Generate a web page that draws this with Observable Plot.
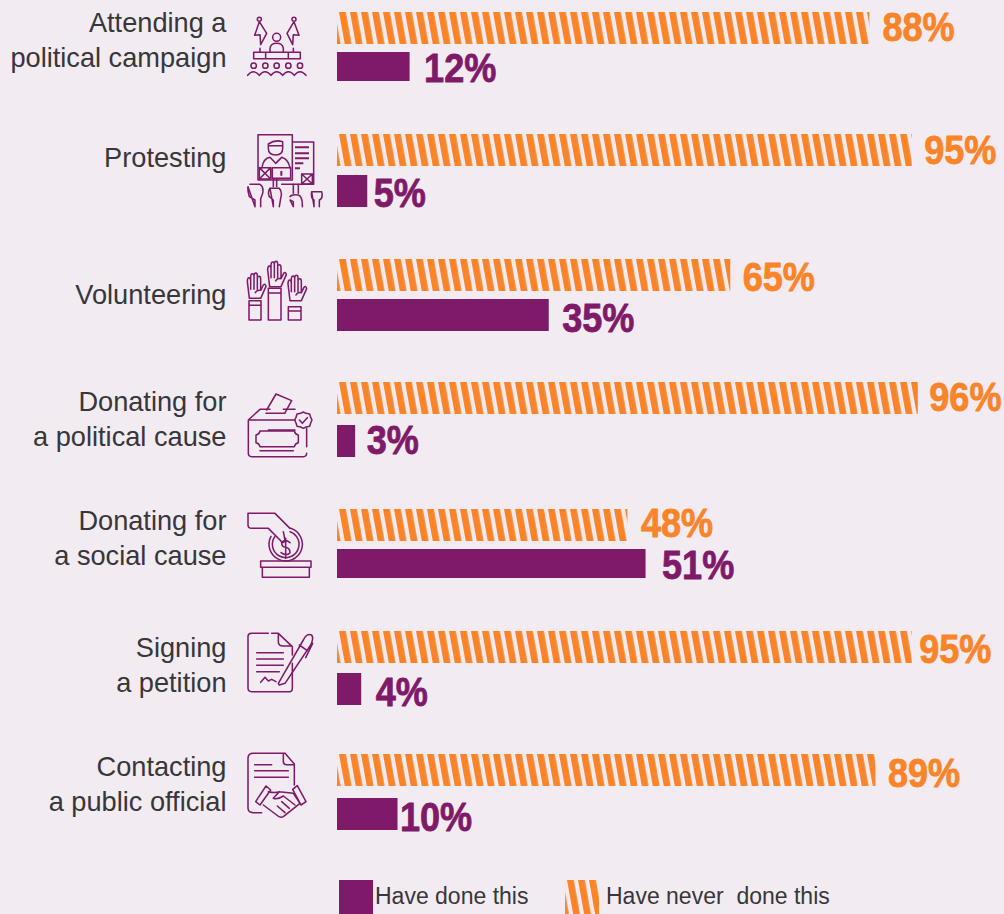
<!DOCTYPE html>
<html>
<head>
<meta charset="utf-8">
<script src="https://cdn.jsdelivr.net/npm/d3@7"></script>
<script src="https://cdn.jsdelivr.net/npm/@observablehq/plot@0.6"></script>
<style>
  html, body { margin: 0; background: #f2ebf2; }
  #chart svg { display: block; background: #f2ebf2; overflow: visible; }
  #legend { position: relative; height: 34px; margin-top: 10px; font: 23px "Liberation Sans", sans-serif; color: #38363a; }
  #legend svg { position: absolute; top: 0; }
  #legend span { position: absolute; top: 3px; white-space: pre; }
</style>
</head>
<body>
<div id="chart"></div>
<div id="legend"></div>
<script>
// Survey results: share of respondents per civic activity.
const activities = [
  "Attending a\npolitical campaign",
  "Protesting",
  "Volunteering",
  "Donating for\na political cause",
  "Donating for\na social cause",
  "Signing\na petition",
  "Contacting\na public official"
];
const haveNever = [88, 95, 65, 96, 48, 95, 89];
const haveDone = [12, 5, 35, 3, 51, 4, 10];

const PURPLE = "#7f1a68";
const ORANGE = "#fb8429";
const INK = "#38363a";

// Pixel edges of each row's two bars (top and bottom of orange, then of purple).
const barEdges = [
  [12, 44, 52, 81], [134, 166, 175, 207], [259, 291, 299, 331], [382, 414, 425, 457],
  [509, 541, 549, 578], [631, 663, 673, 705], [754, 786, 798, 830]
];
const bandStops = [0, 0.4, 0.5, 0.9];
const rows = activities.map((_, i) => i);

// Rows are not evenly spaced, so row units pass through this before the y scale.
const rowPosition = d3.scaleLinear()
  .domain(rows.flatMap(i => bandStops.map(s => i + s)))
  .range(barEdges.flat());

// Small per-row layout nudges for the text.
const nameShift = [-10, -15, -3, -3, -9, -5, -10];
const neverGap = [12.5, 12, 12, 11, 13, 7, 12];
const doneGap = [14, 6, 13, 11, 16, 14, 2];
const neverLift = [-1, 0, 2, -1, -2, 2, 3];
const doneLift = [2, 2, 3, -1, 2, 3, 3];

// Icon outlines, drawn at one third scale; each has an offset from its row's top.
const hand = "M90 112 L84 62 Q84 50 89 50 Q94 50 94 60 L94 46 Q95 38 99 38 Q104 38 104 46 L104 44 Q105 36 109 36 Q114 36 114 44 L114 52 Q115 46 119 46 Q124 46 124 54 L124 88 L132 72 Q138 66 140 76 L124 112 Z M94 60 V85 M104 46 V85 M114 52 V85 M108 95 Q112 86 124 88";
const icons = [
  { dy: -12, paths: [
    "M52 58a6 6 0 1 0 12 0a6 6 0 1 0 -12 0 M58 65 L44 106 L60 104 L62 134 L80 100 Z M156 58a6 6 0 1 0 12 0a6 6 0 1 0 -12 0 M162 65 L177 106 L160 104 L158 134 L141 100 Z M60 145 V156 M160 145 V156",
    "M98 112a12 12 0 1 0 24 0a12 12 0 1 0 -24 0 M90 156 V145 Q92 130 110 130 Q128 130 130 145 V156 M41 157 H181 V176 H41 Z M77 157 V176 M145 157 V176",
    "M33 197a8 8 0 1 0 16 0a8 8 0 1 0 -16 0 M68 197a8 8 0 1 0 16 0a8 8 0 1 0 -16 0 M102 197a8 8 0 1 0 16 0a8 8 0 1 0 -16 0 M137 197a8 8 0 1 0 16 0a8 8 0 1 0 -16 0 M172 197a8 8 0 1 0 16 0a8 8 0 1 0 -16 0",
    "M23 226 q17 -22 35 0 q17 -22 35 0 q17 -22 35 0 q17 -22 35 0 q17 -22 35 0"
  ] },
  { dy: -134, paths: [
    "M54 404 H157 V540 H54 Z M157 426 H221 V553 H125",
    "M85 432 Q105 418 128 425 V445 Q128 465 107 465 Q85 465 85 445 Z M85 437 H128 M66 503 Q70 475 90 472 L107 490 L125 472 Q145 478 150 503",
    "M58 503 H92 V537 H58 Z M58 503 L92 537 M92 503 L58 537 M185 522 H217 V552 H185 Z M185 522 L217 552 M217 522 L185 552 M97 503 H152 V535 H97 Z",
    "M100 537 V560 M110 537 V560 M160 553 V580 M175 553 V580",
    "M30 553 H60 Q72 560 68 580 L62 596 V620 M45 620 V600 L28 590 Q22 570 24 560 Z M90 565 H118 Q128 575 122 595 L118 620 M100 620 V600 L88 590 Q82 575 90 565 Z M150 590 Q155 582 175 585 Q188 590 187 620 M160 620 V605 L150 600 Z M215 575 H245 Q250 595 238 600 V620 M222 620 V600 Q212 595 215 575 Z"
  ], heavy: "M165 442 H207 M165 460 H207 M165 475 H207 M165 490 H190 M165 505 H180 M124 513 V527" },
  { dy: -9, paths: [
    "M27 152 H63 V210 H27 Z M27 166 H63 M85 115 H123 V210 H85 Z M85 129 H123 M145 170 H183 V210 H145 Z M145 183 H183"
  ], hands: [[-62, 33], [-1, -2], [60, 40]] },
  { dy: -132, paths: [
    "M25 510 L60 478 H90 M130 478 H165 M25 510 H165 M25 510 V610 Q25 620 35 620 H190 Q200 620 200 610 M200 535 V590",
    "M80 480 L108 432 L155 452 L134 490 M78 490 H135",
    "M190 486 l8 4 l11 2 l3 10 l4 8 l-4 9 l-3 10 l-11 2 l-8 4 l-8 -4 l-11 -2 l-3 -10 l-4 -9 l4 -8 l3 -10 l11 -2 Z M178 510 L187 520 L202 503",
    "M60 543 H163 Q165 553 175 555 V578 Q165 580 163 590 H60 Q58 580 48 578 V555 Q58 553 60 543 Z M85 540 H165 M60 602 H160"
  ] },
  { dy: -259, paths: [
    "M150 835 L105 790 H24 V825 Q24 835 35 835 H85 L120 870 Q130 885 135 870 L130 845",
    "M93 859 A50 50 0 1 0 152 835 M105 859 A40 40 0 1 0 150 845",
    "M150 878 Q135 865 125 878 Q125 890 137 892 Q150 895 150 908 Q140 920 123 908 M137 865 V925",
    "M62 933 H213 V952 H62 Z M67 952 H208 V982 H67 Z"
  ] },
  { dy: -11, paths: [
    "M85 40 H35 Q24 40 24 50 V205 Q24 215 35 215 H150 Q157 215 157 205 V130 M95 40 H115 L157 80 V105 M115 40 V65 Q115 78 130 78 H155",
    "M50 98 H130 M50 117 H130 M50 136 H130 M50 155 H118 M62 187 L75 172 L85 183 L95 178 L108 185",
    "M115 190 L190 60 Q200 38 215 45 Q222 55 212 75 L135 190 L118 195 Z M218 70 L197 113 M178 75 L202 92"
  ] },
  { dy: -134, paths: [
    "M135 400 H40 Q24 400 24 415 V565 Q24 578 40 578 H65 M135 400 L163 432 V495 M130 402 V425 Q130 434 140 434 H162",
    "M44 434 H95 M44 452 H145 M44 472 H145",
    "M47 545 L78 498 L92 510 L60 555 Z M158 508 L172 497 L198 545 L183 555 Z",
    "M85 515 Q105 520 118 515 L160 520 L180 550 L130 590 Q120 595 110 585 L70 555 M118 515 L100 535 Q112 540 130 528 L165 555 M148 565 L125 545 M135 578 L112 558"
  ] }
];

const svgNS = "http://www.w3.org/2000/svg";
const make = (name, attrs = {}, parent) => {
  const el = document.createElementNS(svgNS, name);
  for (const k in attrs) el.setAttribute(k, attrs[k]);
  if (parent) parent.appendChild(el);
  return el;
};

// Slanted stripes, anchored to the top-left corner of the bar that uses them.
function hatchPattern(id, x, y, parent) {
  const p = make("pattern", {
    id, patternUnits: "userSpaceOnUse", width: 11, height: 32,
    patternTransform: `translate(${x},${y}) skewX(10.2)`
  }, parent);
  make("rect", { x: 0, y: 0, width: 6.8, height: 32, fill: ORANGE }, p);
}

const hatchDefs = (index, { x, y }) => {
  const defs = make("defs");
  rows.forEach(i => hatchPattern(`hatch-${i}`, x(0) + 2, y(rowPosition(i)), defs));
  return defs;
};

const iconMark = (index, { x, y }) => {
  const root = make("g", { fill: "none", stroke: PURPLE, "stroke-width": 4.6, "stroke-linejoin": "round", "stroke-linecap": "round" });
  icons.forEach((icon, i) => {
    const g = make("g", { transform: `translate(${x(0) - 97},${y(rowPosition(i)) + icon.dy}) scale(${1 / 3})` }, root);
    icon.paths.forEach(d => make("path", { d }, g));
    if (icon.heavy) make("path", { d: icon.heavy, "stroke-width": 6, "stroke-linecap": "butt" }, g);
    (icon.hands || []).forEach(([dx, dy]) => make("path", { d: hand, transform: `translate(${dx},${dy})` }, g));
  });
  return root;
};

// The percentages are set in a condensed heavy face, so the bold sans is narrowed.
const condense = (index, scales, values, dimensions, context, next) => {
  const g = next(index, scales, values, dimensions, context);
  g.querySelectorAll("text").forEach(t => {
    t.setAttribute("transform", `${t.getAttribute("transform") || ""} scale(0.88,1)`);
  });
  return g;
};

const valueText = (v, i, offset, fill, gap, lift) =>
  Plot.text([v], {
    x: d => d,
    y: () => i + offset,
    text: d => `${d}%`,
    dx: gap,
    dy: lift,
    textAnchor: "start",
    fill,
    stroke: fill,
    strokeWidth: 0.8,
    fontFamily: "Liberation Sans",
    fontWeight: 700,
    fontSize: 41,
    render: condense
  });

const chart = Plot.plot({
  width: 1004,
  height: 870,
  margin: 0,
  style: { background: "transparent", overflow: "visible" },
  x: { domain: [0, 100], range: [337, 942], axis: null },
  y: { domain: [0, 870], range: [0, 870], transform: rowPosition, axis: null },
  marks: [
    hatchDefs,
    ...rows.map(i => Plot.rect([haveNever[i]], {
      x1: 0, x2: d => d, y1: () => i + bandStops[0], y2: () => i + bandStops[1],
      fill: `url(#hatch-${i})`
    })),
    Plot.rect(rows, {
      x1: 0, x2: i => haveDone[i],
      y1: i => i + bandStops[2], y2: i => i + bandStops[3],
      fill: PURPLE
    }),
    iconMark,
    ...rows.map(i => valueText(haveNever[i], i, 0.2, ORANGE, neverGap[i], neverLift[i])),
    ...rows.map(i => valueText(haveDone[i], i, 0.7, PURPLE, doneGap[i], doneLift[i])),
    // Activity names, right-aligned against the icon column.
    ...rows.map(i => Plot.text([activities[i]], {
      x: 0,
      y: () => i + 0.45,
      text: d => d,
      dx: -111,
      dy: nameShift[i],
      textAnchor: "end",
      lineAnchor: "middle",
      lineHeight: 35 / 27.2,
      fill: INK,
      fontFamily: "Liberation Sans",
      fontSize: 27.2
    }))
  ]
});
document.getElementById("chart").appendChild(chart);

// Legend below the chart.
const legend = document.getElementById("legend");
const done = make("svg", { width: 34, height: 34, style: "left:339px" }, legend);
make("rect", { width: 34, height: 34, fill: PURPLE }, done);
const never = make("svg", { width: 34, height: 34, style: "left:565px" }, legend);
hatchPattern("hatch-key", 2, 0, make("defs", {}, never));
make("rect", { width: 34, height: 34, fill: "url(#hatch-key)" }, never);
[["Have done this", 375], ["Have never  done this", 606]].forEach(([label, left]) => {
  const s = document.createElement("span");
  s.textContent = label;
  s.style.left = left + "px";
  legend.appendChild(s);
});
</script>
</body>
</html>
